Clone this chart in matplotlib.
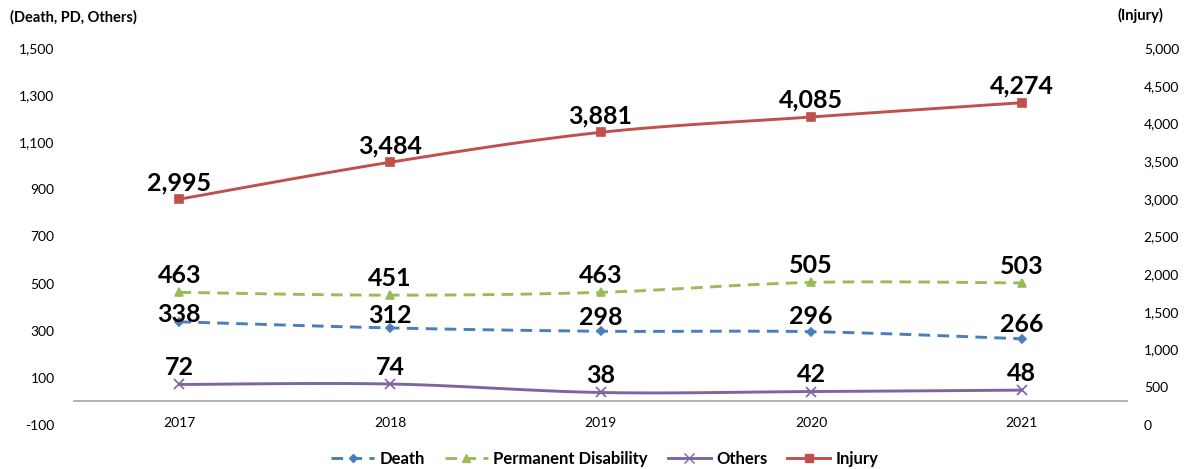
import numpy as np
import matplotlib.pyplot as plt
from matplotlib.lines import Line2D

plt.rcParams['font.family'] = ['Lato', 'DejaVu Sans']

# ---------------------------------------------------------------------------
# Data
# ---------------------------------------------------------------------------
years = ["2017", "2018", "2019", "2020", "2021"]
death = [338, 312, 298, 296, 266]
perm_disability = [463, 451, 463, 505, 503]
others = [72, 74, 38, 42, 48]
injury = [2995, 3484, 3881, 4085, 4274]

left_ticks = [-100, 100, 300, 500, 700, 900, 1100, 1300, 1500]
right_ticks = [0, 500, 1000, 1500, 2000, 2500, 3000, 3500, 4000, 4500, 5000]

SEG = 30  # samples per curve segment


def smooth(xs, ys, t=1/6):
    """Excel-like smoothed line: cubic Bezier through the points."""
    xs = np.asarray(xs, float)
    ys = np.asarray(ys, float)
    n = len(xs)
    px, py = [], []
    s = np.linspace(0, 1, SEG + 1)
    for i in range(n - 1):
        x0, y0 = xs[i], ys[i]
        x3, y3 = xs[i + 1], ys[i + 1]
        xm, ym = xs[max(i - 1, 0)], ys[max(i - 1, 0)]
        xp, yp = xs[min(i + 2, n - 1)], ys[min(i + 2, n - 1)]
        x1, y1 = x0 + (x3 - xm) * t, y0 + (y3 - ym) * t
        x2, y2 = x3 - (xp - x0) * t, y3 - (yp - y0) * t
        bx = (1 - s) ** 3 * x0 + 3 * (1 - s) ** 2 * s * x1 + 3 * (1 - s) * s ** 2 * x2 + s ** 3 * x3
        by = (1 - s) ** 3 * y0 + 3 * (1 - s) ** 2 * s * y1 + 3 * (1 - s) * s ** 2 * y2 + s ** 3 * y3
        if i > 0:
            bx, by = bx[1:], by[1:]
        px.append(bx)
        py.append(by)
    return np.concatenate(px), np.concatenate(py)


fig = plt.figure(figsize=(11.88, 4.69), dpi=100)
ax = fig.add_axes([0.0623, 0.0938, 0.8864, 0.8039])
ax2 = ax.twinx()

x = np.arange(len(years))
marks = [i * SEG for i in range(len(years))]

# label offsets (points above the marker); the first Death label sits lower
lift_default = [12] * len(years)
lift_death = [5, 9, 10, 11, 10]

series = [
    (ax, death, "Death", "#4A7EBB", (0, (4, 2.5)), "D", 4, lift_death),
    (ax, perm_disability, "Permanent Disability", "#9BBB59", (0, (4, 2.5)), "^", 5.5, lift_default),
    (ax, others, "Others", "#8064A2", "-", "x", 7, lift_default),
    (ax2, injury, "Injury", "#C0504D", "-", "s", 5.5, lift_default),
]

handles = []
for a, vals, name, color, ls, mk, ms, lift in series:
    sx, sy = smooth(x, vals)
    a.plot(sx, sy, color=color, lw=2.1, ls=ls, marker=mk, ms=ms,
           markevery=marks, mfc=color, mec=color, mew=1.2)
    handles.append(Line2D([], [], color=color, lw=2.1, ls=ls, marker=mk,
                          ms=ms, mfc=color, mec=color, label=name))
    for xi, v, dy in zip(x, vals, lift):
        a.annotate(f"{v:,}", (xi, v), xytext=(0, dy), textcoords="offset points",
                   ha="center", va="center", fontsize=18, fontweight="bold",
                   color="black")

ax.set_xlim(-0.5, len(years) - 0.5)
ax.set_ylim(-100, 1500)
ax2.set_ylim(0, 5000)

ax.set_xticks(x)
ax.set_xticklabels(years, fontsize=8.5)
ax.set_yticks(left_ticks)
ax.set_yticklabels([f"{v:,}" for v in left_ticks], fontsize=10)
ax2.set_yticks(right_ticks)
ax2.set_yticklabels([f"{v:,}" for v in right_ticks], fontsize=10)

for a in (ax, ax2):
    for side in ("top", "left", "right", "bottom"):
        a.spines[side].set_visible(False)
ax.spines["bottom"].set_visible(True)
ax.spines["bottom"].set_position(("data", 0))
ax.spines["bottom"].set_color("#A6A6A6")
ax.spines["bottom"].set_linewidth(1.2)

ax.tick_params(axis="x", length=0, pad=11)
ax.tick_params(axis="y", length=0, pad=14)
ax2.tick_params(axis="y", length=0, pad=12)

fig.text(0.008, 0.962, "(Death, PD, Others)", fontsize=10.5, fontweight="bold",
         ha="left", va="center")
fig.text(0.979, 0.967, "(Injury)", fontsize=10.5, fontweight="bold",
         ha="right", va="center")

fig.legend(handles=handles, loc="lower center", bbox_to_anchor=(0.509, -0.028),
           ncol=4, frameon=False, handlelength=2.6, handletextpad=0.3,
           columnspacing=1.2, prop={"size": 12, "weight": "bold"})

fig.savefig("out.png", dpi=100)
